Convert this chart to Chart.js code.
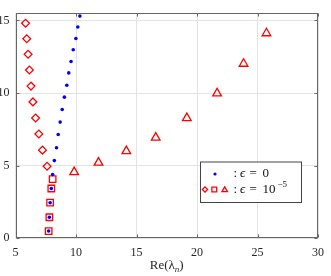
<!DOCTYPE html>
<html>
<head>
<meta charset="utf-8">
<script src="https://cdn.jsdelivr.net/npm/chart.js@4.4.1/dist/chart.umd.min.js"></script>
<style>
  html, body { margin: 0; padding: 0; background: #fff; }
  #wrap { position: relative; width: 331px; height: 276px; }
</style>
</head>
<body>
<div id="wrap"><canvas id="c" width="331" height="276"></canvas></div>
<script>
// ---- data ----
const xTicks = [5, 10, 15, 20, 25, 30];
const yTicks = [0, 5, 10, 15];

// epsilon = 0 (blue dots)
const eps0X = [7.74, 7.80, 7.86, 7.96, 8.07, 8.21, 8.39, 8.53, 8.69, 8.86, 9.04, 9.24, 9.40, 9.59, 9.77, 9.99, 10.15, 10.32];
const eps0Y = [0.50, 1.45, 2.45, 3.43, 4.39, 5.35, 6.24, 7.15, 8.00, 8.87, 9.72, 10.54, 11.39, 12.17, 12.98, 13.76, 14.55, 15.30];

// epsilon = 1e-5, squares
const sqX = [7.74, 7.80, 7.86, 7.96, 8.07];
const sqY = [0.50, 1.45, 2.45, 3.43, 4.08];

// epsilon = 1e-5, diamonds
const diX = [7.61, 7.23, 6.93, 6.66, 6.44, 6.28, 6.15, 6.04, 5.93, 5.83];
const diY = [4.96, 6.07, 7.18, 8.28, 9.39, 10.48, 11.59, 12.67, 13.74, 14.81];

// epsilon = 1e-5, triangles
const trX = [9.85, 11.86, 14.16, 16.59, 19.16, 21.66, 23.85, 25.74];
const trY = [4.56, 5.21, 6.00, 6.93, 8.28, 9.98, 12.02, 14.12];

const xMin = 5, xMax = 30, yMin = 0, yMax = 15.5;

const pts = (xs, ys) => xs.map((x, i) => ({ x: x, y: ys[i] }));

const RED = 'rgb(255,0,0)';
const BLUE = 'rgb(0,0,255)';
const AXIS = '#666666';
const SERIF = '"Liberation Serif", "DejaVu Serif", serif';

const framePlugin = {
  id: 'frame',
  afterDatasetsDraw(chart) {
    const { ctx, chartArea: a, scales } = chart;
    ctx.save();
    ctx.strokeStyle = AXIS;
    ctx.lineWidth = 1;
    const L = Math.round(a.left) + 0.5, R = Math.round(a.right) - 0.5;
    const T = Math.round(a.top) + 0.5, B = Math.round(a.bottom) - 0.5;
    ctx.strokeRect(L, T, R - L, B - T);
    ctx.beginPath();
    const tl = 3;
    xTicks.forEach(v => {
      const px = Math.round(scales.x.getPixelForValue(v)) + 0.5;
      ctx.moveTo(px, B); ctx.lineTo(px, B - tl);
      ctx.moveTo(px, T); ctx.lineTo(px, T + tl);
    });
    yTicks.forEach(v => {
      const py = Math.round(scales.y.getPixelForValue(v)) + 0.5;
      ctx.moveTo(L, py); ctx.lineTo(L + tl, py);
      ctx.moveTo(R, py); ctx.lineTo(R - tl, py);
    });
    ctx.stroke();
    ctx.restore();
  },
  afterDraw(chart) {
    const { ctx, chartArea: a } = chart;
    ctx.save();
    // x axis title: Re(lambda_n)
    ctx.fillStyle = '#262626';
    ctx.textBaseline = 'middle';
    ctx.textAlign = 'left';
    const main = '13px ' + SERIF;
    ctx.font = main; const w1 = ctx.measureText('Re(λ').width;
    ctx.font = 'italic 9px ' + SERIF; const w2 = ctx.measureText('n').width;
    ctx.font = main; const w3 = ctx.measureText(')').width;
    const cx = (a.left + a.right) / 2;
    let x = cx - (w1 + w2 + w3) / 2;
    const ty = 266;
    ctx.font = main; ctx.fillText('Re(λ', x, ty); x += w1;
    ctx.font = 'italic 9px ' + SERIF; ctx.fillText('n', x, ty + 3.5); x += w2;
    ctx.font = main; ctx.fillText(')', x, ty);

    // legend box
    const bx = 200, by = 161.5, bw = 101, bh = 40.5;
    ctx.fillStyle = '#fff';
    ctx.fillRect(bx, by, bw, bh);
    ctx.strokeStyle = '#444';
    ctx.lineWidth = 1;
    ctx.strokeRect(bx + 0.5, by + 0.5, bw, bh);

    const r1 = 174, r2 = 189.5;
    // row 1 marker
    ctx.fillStyle = BLUE;
    Chart.helpers.drawPoint(ctx, { pointStyle: 'circle', radius: 1.6, borderWidth: 0, rotation: 0 }, 215, r1);
    // row 2 markers
    ctx.strokeStyle = RED; ctx.lineWidth = 1.3; ctx.fillStyle = 'rgba(0,0,0,0)';
    Chart.helpers.drawPoint(ctx, { pointStyle: 'rectRot', radius: 2.6, borderWidth: 1.3, rotation: 0 }, 205, r2);
    Chart.helpers.drawPoint(ctx, { pointStyle: 'rect', radius: 3.4, borderWidth: 1.3, rotation: 0 }, 214.3, r2);
    Chart.helpers.drawPoint(ctx, { pointStyle: 'triangle', radius: 3.2, borderWidth: 1.3, rotation: 0 }, 224.7, r2 + 0.6);

    // legend texts
    ctx.fillStyle = '#111';
    ctx.textBaseline = 'middle';
    const f = '13px ' + SERIF, fi = 'italic 13px ' + SERIF;
    const put = (t, font, xx, y) => { ctx.font = font; ctx.fillText(t, xx, y); };
    put(':', f, 233.5, r1);
    put('ϵ', fi, 240, r1);
    put('=', f, 249.5, r1);
    put('0', f, 262.5, r1);
    put(':', f, 233.5, r2);
    put('ϵ', fi, 240, r2);
    put('=', f, 249.5, r2);
    put('10', f, 262.5, r2);
    put('−5', '9px ' + SERIF, 277.5, r2 - 5);
    ctx.restore();
  }
};

new Chart(document.getElementById('c'), {
  type: 'scatter',
  data: {
    datasets: [
      {
        label: 'eps0',
        data: pts(eps0X, eps0Y),
        pointStyle: 'circle',
        pointRadius: 1.8,
        pointBackgroundColor: BLUE,
        pointBorderWidth: 0,
        showLine: false
      },
      {
        label: 'squares',
        data: pts(sqX, sqY),
        pointStyle: 'rect',
        pointRadius: 4.6,
        pointBackgroundColor: 'rgba(0,0,0,0)',
        pointBorderColor: RED,
        pointBorderWidth: 1.3,
        showLine: false
      },
      {
        label: 'diamonds',
        data: pts(diX, diY),
        pointStyle: 'rectRot',
        pointRadius: 3.9,
        pointBackgroundColor: 'rgba(0,0,0,0)',
        pointBorderColor: RED,
        pointBorderWidth: 1.3,
        showLine: false
      },
      {
        label: 'triangles',
        data: pts(trX, trY),
        pointStyle: 'triangle',
        pointRadius: 5,
        pointBackgroundColor: 'rgba(0,0,0,0)',
        pointBorderColor: RED,
        pointBorderWidth: 1.3,
        showLine: false
      }
    ]
  },
  options: {
    responsive: false,
    animation: false,
    events: [],
    layout: { padding: { top: 0, right: 7.5, left: 0, bottom: 0 } },
    plugins: { legend: { display: false }, tooltip: { enabled: false } },
    scales: {
      x: {
        type: 'linear',
        min: xMin, max: xMax,
        afterBuildTicks: s => { s.ticks = xTicks.map(v => ({ value: v })); },
        afterFit: s => { s.height = 37.7; },
        ticks: { font: { family: SERIF, size: 12 }, color: '#262626', padding: 7, maxRotation: 0 },
        grid: { color: '#e3e3e3', lineWidth: 1, drawTicks: false },
        border: { display: false }
      },
      y: {
        type: 'linear',
        min: yMin, max: yMax,
        afterBuildTicks: s => { s.ticks = yTicks.map(v => ({ value: v })); },
        afterFit: s => { s.width = 15.5; },
        ticks: { font: { family: SERIF, size: 12 }, color: '#262626', padding: 6 },
        grid: { color: '#e3e3e3', lineWidth: 1, drawTicks: false },
        border: { display: false }
      }
    }
  },
  plugins: [framePlugin]
});
</script>
</body>
</html>
